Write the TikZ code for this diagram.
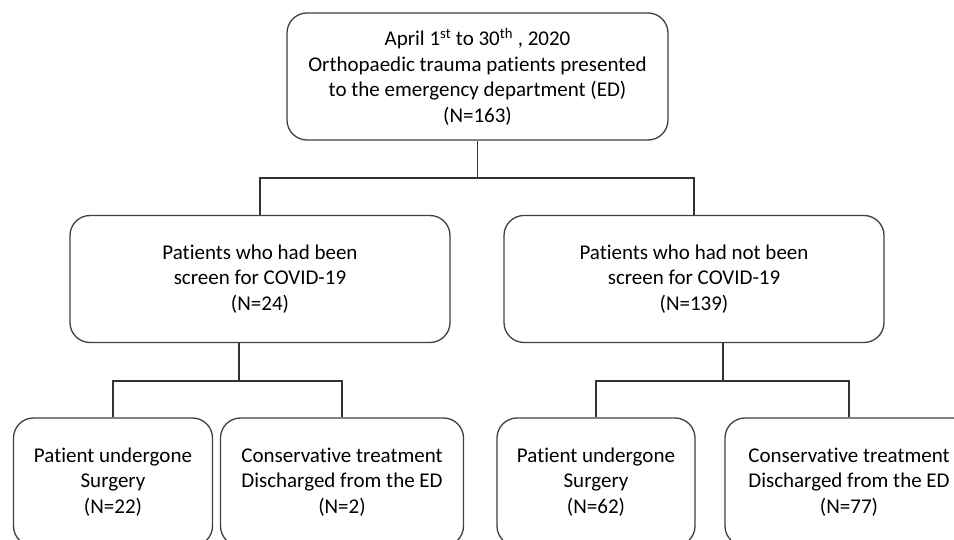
\documentclass[tikz,border=0pt]{standalone}
\usepackage{fontspec}
\setmainfont{Carlito}[Ligatures=NoCommon]

\tikzset{
  box/.style={draw=black!75, line width=1.3pt, rounded corners=20pt, align=center,
    minimum height=127pt, inner sep=0pt, font=\fontsize{21}{25.5}\selectfont},
  link/.style={draw=black!80, line width=1.3pt}
}

\begin{document}
\begin{tikzpicture}[x=1pt,y=-1pt]
\clip (0,0) rectangle (954,540);
% top level
\node[box, minimum width=381pt] (all) at (477.5,76.5)
  {April 1\textsuperscript{st} to 30\textsuperscript{th} , 2020\\Orthopaedic trauma patients presented\\to the emergency department (ED)\\(N=163)};
% screening
\node[box, minimum width=380pt] (scr) at (260,279)
  {Patients who had been\\screen for COVID-19\\(N=24)};
\node[box, minimum width=380pt] (noscr) at (694,279)
  {Patients who had not been\\screen for COVID-19\\(N=139)};
% treatment
\node[box, minimum width=199pt, minimum height=128pt] (surgA) at (113,482)
  {Patient undergone\\Surgery\\(N=22)};
\node[box, minimum width=243pt, minimum height=128pt] (consA) at (342,482)
  {Conservative treatment\\Discharged from the ED\\(N=2)};
\node[box, minimum width=198pt, minimum height=128pt] (surgB) at (596,482)
  {Patient undergone\\Surgery\\(N=62)};
\node[box, minimum width=248pt, minimum height=128pt] (consB) at (849,482)
  {Conservative treatment\\Discharged from the ED\\(N=77)};
% connectors
\coordinate (split) at (477.5,178);
\coordinate (splitA) at (239,381);
\coordinate (splitB) at (723,381);
\draw[link] (all.south) -- (split);
\draw[link] (scr.north) |- (split) -| (noscr.north);
\draw[link] (scr.south -| splitA) -- (splitA);
\draw[link] (surgA.north) |- (splitA) -| (consA.north);
\draw[link] (noscr.south -| splitB) -- (splitB);
\draw[link] (surgB.north) |- (splitB) -| (consB.north);
\end{tikzpicture}
\end{document}
